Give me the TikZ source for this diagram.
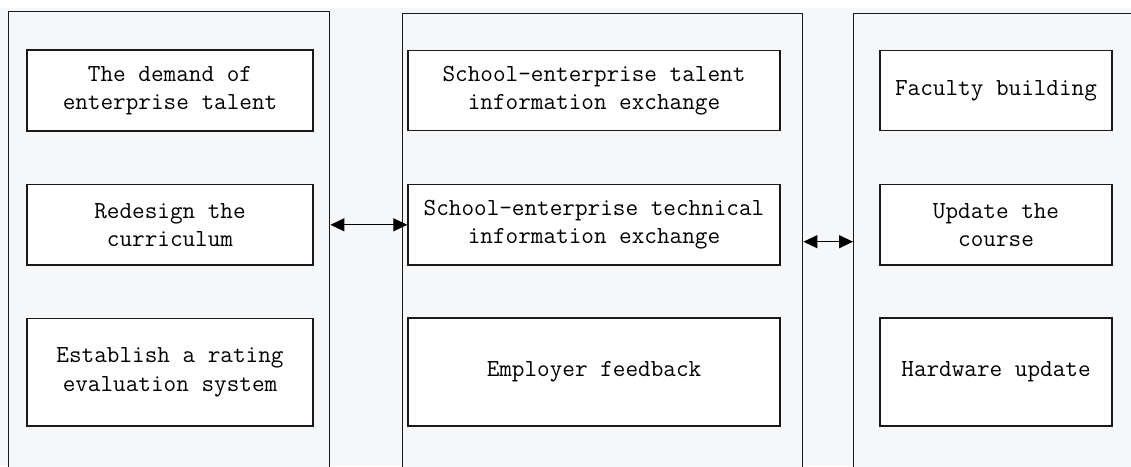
\documentclass[tikz,border=0pt]{standalone}
\usetikzlibrary{arrows.meta}
\definecolor{bggray}{RGB}{246,247,249}
\definecolor{lineblk}{RGB}{25,25,25}
\begin{document}
\begin{tikzpicture}[x=1pt,y=-1pt,
  panel/.style={draw=lineblk, line width=1.4pt, fill=bggray, anchor=north west, inner sep=0pt},
  itembox/.style={draw=lineblk, line width=1.4pt, fill=white, align=center, inner sep=0pt,
     font=\ttfamily\fontsize{24.5}{28.3}\selectfont},
  biarrow/.style={{Triangle[length=14pt,width=13pt]}-{Triangle[length=14pt,width=13pt]}, line width=1.2pt, draw=black}
]
\useasboundingbox (0,0) rectangle (1131,466);
\clip (0,0) rectangle (1131,466);
\fill[white] (0,0) rectangle (1131,466);
\fill[bggray] (0,8) rectangle (1131,466);
% panels
\node[panel, minimum width=321pt, minimum height=500pt] (lp) at (8,11) {};
\node[panel, minimum width=400pt, minimum height=500pt] (mp) at (402,12.5) {};
\node[panel, minimum width=320pt, minimum height=500pt] (rp) at (853,12.5) {};
% left column
\node[itembox, minimum width=286pt, minimum height=81pt] (l1) at (170,90.5) {The demand of\\enterprise talent};
\node[itembox, minimum width=286pt, minimum height=80.5pt] (l2) at (170,224.8) {Redesign the\\curriculum};
\node[itembox, minimum width=286pt, minimum height=107.5pt] (l3) at (170,372.3) {Establish a rating\\evaluation system};
% middle column
\node[itembox, minimum width=372pt, minimum height=80pt] (m1) at (594,90.7) {School-enterprise talent\\information exchange};
\node[itembox, minimum width=372pt, minimum height=80.5pt] (m2) at (594,224.8) {School-enterprise technical\\information exchange};
\node[itembox, minimum width=372pt, minimum height=108pt] (m3) at (594,372) {Employer feedback};
% right column
\node[itembox, minimum width=232pt, minimum height=80pt] (r1) at (996,90.7) {Faculty building};
\node[itembox, minimum width=232pt, minimum height=80.5pt] (r2) at (996,224.8) {Update the\\course};
\node[itembox, minimum width=232pt, minimum height=108pt] (r3) at (996,372) {Hardware update};
% arrows
\draw[biarrow] (lp.east |- m2.west) -- (m2.west);
\coordinate (ay) at (0,241.7);
\draw[biarrow] (mp.east |- ay) -- (rp.west |- ay);
\end{tikzpicture}
\end{document}
